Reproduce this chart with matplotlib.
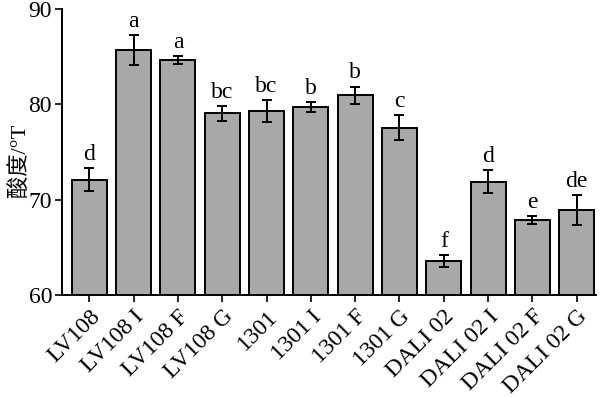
import numpy as np
import matplotlib
matplotlib.use("Agg")
import matplotlib.pyplot as plt

plt.rcParams['font.family'] = ['Liberation Serif', 'Noto Sans CJK SC']

labels = ['LV108', 'LV108 I', 'LV108 F', 'LV108 G', '1301', '1301 I', '1301 F',
          '1301 G', 'DALI 02', 'DALI 02 I', 'DALI 02 F', 'DALI 02 G']
means = [72.1, 85.7, 84.65, 79.05, 79.3, 79.75, 80.95, 77.55, 63.55, 71.9, 67.9, 68.9]
errs = [1.2, 1.6, 0.4, 0.8, 1.15, 0.5, 0.9, 1.3, 0.6, 1.2, 0.4, 1.6]
letters = ['d', 'a', 'a', 'bc', 'bc', 'b', 'b', 'c', 'f', 'd', 'e', 'de']

fig = plt.figure(figsize=(6, 3.97), dpi=100)
ax = fig.add_axes([0.103, 0.257, 0.890, 0.720])

x = np.arange(len(labels))
ax.bar(x, means, width=0.79, color='#a8a8a8', edgecolor='black', linewidth=1.4, zorder=2)
ax.errorbar(x, means, yerr=errs, fmt='none', ecolor='black', elinewidth=1.4,
            capsize=3.5, capthick=1.4, zorder=3)
for xi, m, e, t in zip(x, means, errs, letters):
    ax.text(xi, m + e + 0.35, t, ha='center', va='bottom', fontsize=17)

ax.set_xlim(-0.62, 11.43)
ax.set_ylim(60, 90)
ax.set_yticks([60, 70, 80, 90])
ax.set_xticks(x)
ax.set_xticklabels(labels, rotation=45, ha='right', rotation_mode='anchor', fontsize=17)
ax.tick_params(axis='y', labelsize=17, direction='out', length=5, width=1.2, pad=2)
ax.tick_params(axis='x', direction='out', length=5, width=1.2, pad=3)
ax.set_ylabel('酸度/°T', fontsize=16, va='center')
ax.yaxis.set_label_coords(-0.078, 0.47)

ax.spines['top'].set_visible(False)
ax.spines['right'].set_visible(False)
ax.spines['left'].set_linewidth(1.4)
ax.spines['bottom'].set_linewidth(1.4)

fig.savefig('out.png', dpi=100)
